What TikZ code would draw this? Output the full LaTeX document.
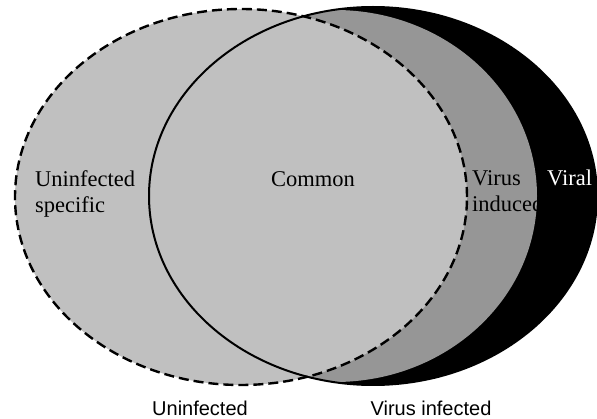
\documentclass[tikz,border=0pt]{standalone}
\usepackage{fontspec}
\setmainfont{Liberation Serif}
\newfontfamily\labelsans{Liberation Sans}
\definecolor{lightfill}{RGB}{192,192,192}
\definecolor{midfill}{RGB}{150,150,150}
\begin{document}
\begin{tikzpicture}[x=1pt,y=-1pt,
  serlabel/.style={inner sep=0pt,font=\fontsize{22.5}{26}\selectfont},
  sanslabel/.style={inner sep=0pt,font=\labelsans\fontsize{20}{24}\selectfont},
  dashedset/.style={line width=2.4pt,dash pattern=on 10pt off 5pt},
  solidset/.style={line width=2pt}]
\useasboundingbox (0,0) rectangle (597,419);
% virus infected set (black)
\fill[black] (373,196) ellipse [x radius=224pt, y radius=189pt];
\begin{scope}
  \clip (373,196) ellipse [x radius=224pt, y radius=189pt];
  \fill[lightfill] (300,200) ellipse [x radius=200pt, y radius=185pt];
  \fill[midfill] (335,196) ellipse [x radius=202pt, y radius=186pt];
\end{scope}
% uninfected set
\fill[lightfill] (241,197) ellipse [x radius=226pt, y radius=188pt];
\draw[solidset] (373,196) ellipse [x radius=224pt, y radius=189pt];
\draw[dashedset] (241,197) ellipse [x radius=226pt, y radius=188pt];
% labels
\node[serlabel,anchor=base west] (us1) at (35,187) {Uninfected};
\node[serlabel,anchor=base west] (us2) at (35,213) {specific};
\node[serlabel,anchor=base] (com) at (313,187) {Common};
\node[serlabel,anchor=base west] (vi1) at (472,186) {Virus};
\node[serlabel,anchor=base west] (vi2) at (472,212) {induced};
\node[serlabel,anchor=base west,text=white] (vir) at (547,186) {Viral};
\node[sanslabel,anchor=base] (un) at (200,415) {Uninfected};
\node[sanslabel,anchor=base] (vinf) at (431,415) {Virus infected};
\end{tikzpicture}
\end{document}
